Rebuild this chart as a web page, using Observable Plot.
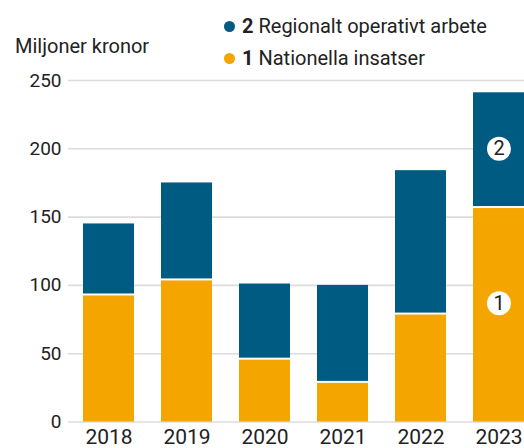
<!DOCTYPE html>
<html>
<head>
<meta charset="utf-8">
<script src="https://cdn.jsdelivr.net/npm/d3@7"></script>
<script src="https://cdn.jsdelivr.net/npm/@observablehq/plot@0.6"></script>
<style>
  html, body { margin: 0; padding: 0; background: #fff; }
  body { width: 524px; height: 448px; overflow: hidden; font-family: Roboto, sans-serif; color: #222; }
  #header { position: relative; height: 70px; }
  #title { position: absolute; left: 15px; top: 36px; font-size: 20px; line-height: 20px; white-space: nowrap; }
  .leg { position: absolute; left: 224px; font-size: 20px; line-height: 20px; white-space: nowrap; }
  .leg .dot { display: inline-block; width: 11px; height: 11px; border-radius: 50%; margin-right: 7px; vertical-align: 1px; }
  .leg b { font-weight: 700; }
</style>
</head>
<body>
<div id="header">
  <div id="title">Miljoner kronor</div>
  <div class="leg" id="leg2" style="top:16px"></div>
  <div class="leg" id="leg1" style="top:48px"></div>
</div>
<div id="chart"></div>
<script>
const years = ["2018", "2019", "2020", "2021", "2022", "2023"];
const nationella = [93, 104, 46, 29, 79, 157];
const regionalt = [52, 71, 55, 71, 105, 84];
const seriesNames = ["Nationella insatser", "Regionalt operativt arbete"];
const seriesNumbers = ["1", "2"];
const seriesColors = ["#f5a500", "#005b82"];
const yTicks = [0, 50, 100, 150, 200, 250];
// numbered markers placed on the 2023 bar
const markerYear = "2023";
const markerValues = [87, 200];
const markerLabels = ["1", "2"];

// legend (HTML above the SVG)
[["leg2", 1], ["leg1", 0]].forEach(([id, i]) => {
  const el = document.getElementById(id);
  el.innerHTML = `<span class="dot" style="background:${seriesColors[i]}"></span><b>${seriesNumbers[i]}</b> ${seriesNames[i]}`;
});

// stacked segments: orange from 0, blue on top of orange
const natRows = years.map((y, i) => ({year: y, y1: 0, y2: nationella[i]}));
const regRows = years.map((y, i) => ({year: y, y1: nationella[i], y2: nationella[i] + regionalt[i]}));
const markers = markerValues.map((v, i) => ({year: markerYear, value: v, label: markerLabels[i]}));

const chart = Plot.plot({
  width: 524,
  height: 378,
  marginLeft: 68,
  marginRight: 0,
  marginTop: 10,
  marginBottom: 26.5,
  style: {fontFamily: "Roboto, sans-serif", color: "#222", background: "transparent"},
  x: {domain: years, range: [68, 539], paddingInner: 0.35, paddingOuter: 0.18, label: null},
  y: {domain: [0, 250], label: null},
  marks: [
    Plot.ruleY(yTicks, {stroke: "#dcdcdc", strokeWidth: 1.6}),
    Plot.barY(natRows, {x: "year", y1: "y1", y2: "y2", fill: seriesColors[0], insetTop: 1}),
    Plot.barY(regRows, {x: "year", y1: "y1", y2: "y2", fill: seriesColors[1], insetBottom: 1}),
    Plot.dot(markers, {x: "year", y: "value", r: 12, fill: "white"}),
    Plot.text(markers, {x: "year", y: "value", text: "label", fontSize: 20, fill: "#222"}),
    Plot.axisY(yTicks, {tickSize: 0, tickPadding: 7, fontSize: 19, label: null}),
    Plot.axisX({tickSize: 0, tickPadding: 7, fontSize: 21, label: null})
  ]
});
document.getElementById("chart").appendChild(chart);
</script>
</body>
</html>
